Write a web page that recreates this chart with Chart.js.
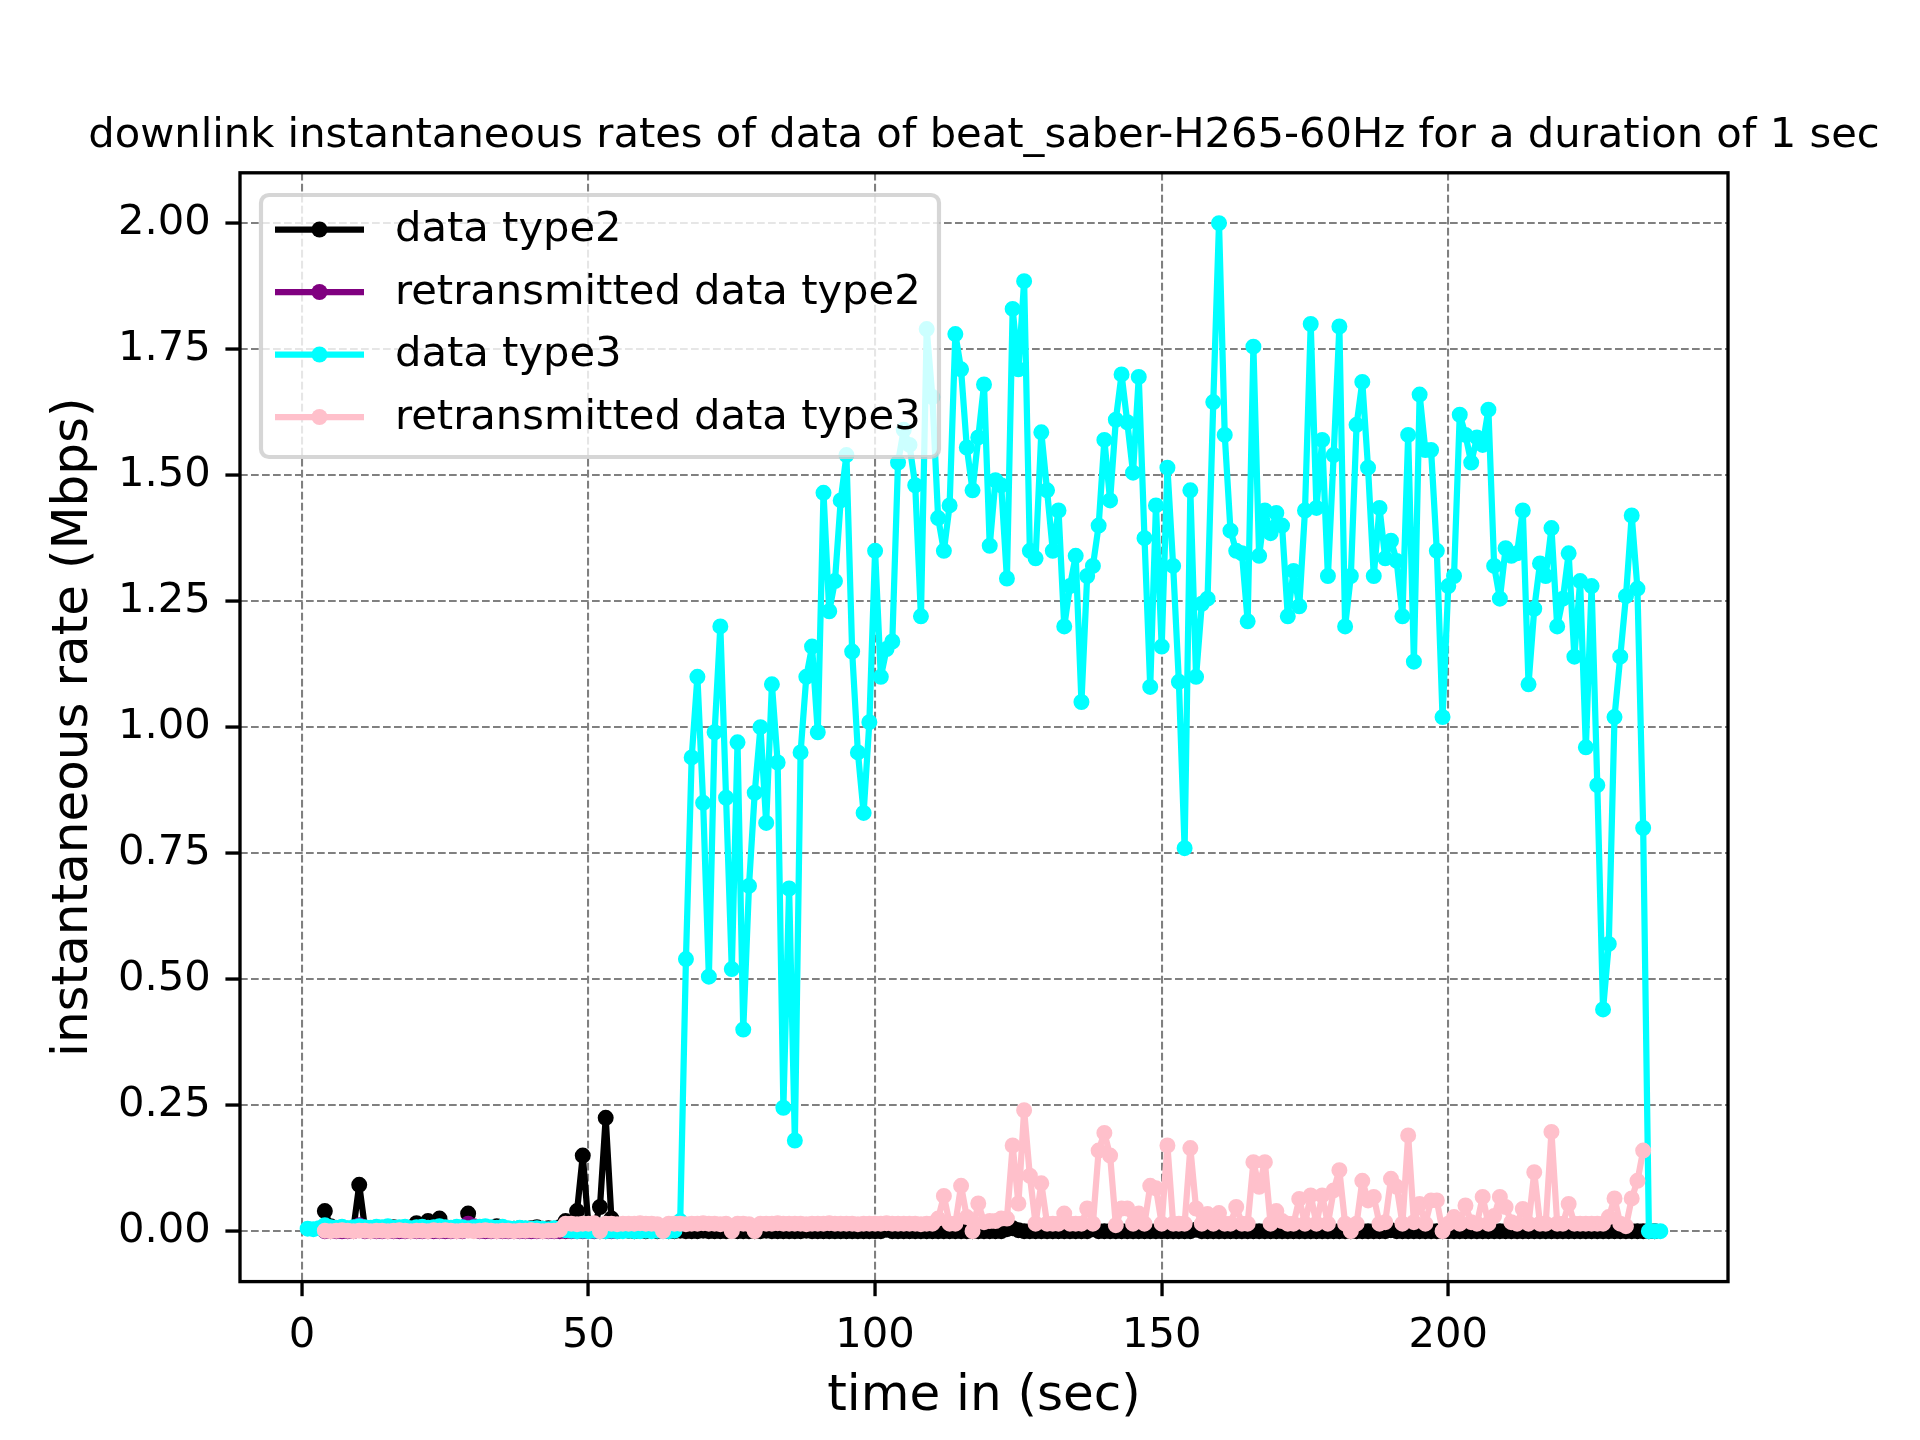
<!DOCTYPE html>
<html>
<head>
<meta charset="utf-8">
<title>downlink instantaneous rates</title>
<script src="https://cdn.jsdelivr.net/npm/chart.js@4.4.1/dist/chart.umd.min.js"></script>
<style>
  html, body { margin: 0; padding: 0; background: #fff; }
  canvas { display: block; }
</style>
</head>
<body>
<canvas id="rateChart" width="1920" height="1440"></canvas>
<script>
// --- datos (Mbps, una muestra por segundo) ---
const chartTitle = 'downlink instantaneous rates of data of beat_saber-H265-60Hz for a duration of 1 sec';
const xTitle = 'time in (sec)';
const yTitle = 'instantaneous rate (Mbps)';

const xTicks = [0, 50, 100, 150, 200];
const xTickLabels = ['0', '50', '100', '150', '200'];
const yTicks = [0, 0.25, 0.5, 0.75, 1.0, 1.25, 1.5, 1.75, 2.0];
const yTickLabels = ['0.00', '0.25', '0.50', '0.75', '1.00', '1.25', '1.50', '1.75', '2.00'];

const seriesLabels = ['data type2', 'retransmitted data type2', 'data type3', 'retransmitted data type3'];

// data type2: segundos 4..236
const type2Start = 4;
const type2Rate = [
    0.040, 0.010, 0.006, 0.004, 0.005, 0.006, 0.092, 0.006, 0.005, 0.004,
    0.006, 0.005, 0.008, 0.006, 0.005, 0.007, 0.016, 0.010, 0.020, 0.012,
    0.025, 0.008, 0.006, 0.005, 0.007, 0.035, 0.008, 0.006, 0.005, 0.006,
    0.010, 0.005, 0.004, 0.005, 0.006, 0.005, 0.006, 0.008, 0.005, 0.006,
    0.005, 0.008, 0.020, 0.012, 0.040, 0.150, 0.010, 0.008, 0.048, 0.225,
    0.025, 0.003, 0.002, 0.001, 0.000, 0.001, 0.000, 0.002, 0.000, 0.001,
    0.000, 0.000, 0.001, 0.000, 0.000, 0.000, 0.001, 0.000, 0.000, 0.000,
    0.000, 0.001, 0.000, 0.000, 0.000, 0.000, 0.000, 0.001, 0.000, 0.000,
    0.000, 0.000, 0.000, 0.000, 0.001, 0.000, 0.000, 0.000, 0.000, 0.000,
    0.000, 0.000, 0.000, 0.000, 0.000, 0.000, 0.000, 0.000, 0.003, 0.000,
    0.000, 0.000, 0.000, 0.000, 0.000, 0.000, 0.000, 0.000, 0.000, 0.000,
    0.000, 0.000, 0.000, 0.000, 0.000, 0.000, 0.000, 0.000, 0.000, 0.004,
    0.006, 0.002, 0.000, 0.000, 0.000, 0.000, 0.000, 0.000, 0.000, 0.000,
    0.000, 0.000, 0.000, 0.000, 0.004, 0.000, 0.000, 0.000, 0.000, 0.000,
    0.000, 0.000, 0.000, 0.000, 0.000, 0.000, 0.000, 0.000, 0.000, 0.000,
    0.000, 0.000, 0.003, 0.000, 0.000, 0.000, 0.000, 0.000, 0.000, 0.000,
    0.000, 0.000, 0.000, 0.000, 0.000, 0.000, 0.000, 0.000, 0.000, 0.000,
    0.000, 0.000, 0.000, 0.000, 0.000, 0.000, 0.000, 0.000, 0.000, 0.000,
    0.000, 0.000, 0.000, 0.000, 0.000, 0.000, 0.002, 0.000, 0.000, 0.000,
    0.000, 0.000, 0.000, 0.000, 0.000, 0.000, 0.000, 0.000, 0.000, 0.000,
    0.000, 0.000, 0.000, 0.000, 0.000, 0.000, 0.000, 0.000, 0.000, 0.000,
    0.000, 0.000, 0.000, 0.000, 0.000, 0.000, 0.000, 0.000, 0.000, 0.000,
    0.000, 0.000, 0.000, 0.000, 0.000, 0.000, 0.000, 0.000, 0.000, 0.000,
    0.000, 0.000, 0.000
];

// retransmitted data type2: segundos 4..55
const retx2Start = 4;
const retx2Rate = [
    0.000, 0.000, 0.000, 0.000, 0.000, 0.000, 0.012, 0.000, 0.000, 0.000,
    0.000, 0.000, 0.000, 0.000, 0.000, 0.000, 0.000, 0.000, 0.000, 0.000,
    0.000, 0.000, 0.000, 0.000, 0.000, 0.015, 0.010, 0.000, 0.000, 0.000,
    0.000, 0.000, 0.000, 0.000, 0.000, 0.000, 0.000, 0.000, 0.000, 0.000,
    0.000, 0.000, 0.000, 0.000, 0.000, 0.000, 0.000, 0.000, 0.000, 0.000,
    0.000, 0.000
];

// data type3: segundos 1..237
const type3Start = 1;
const type3Rate = [
    0.005, 0.004, 0.006, 0.012, 0.008, 0.007, 0.009, 0.006, 0.008, 0.010,
    0.008, 0.007, 0.009, 0.008, 0.010, 0.007, 0.008, 0.009, 0.006, 0.008,
    0.009, 0.007, 0.008, 0.010, 0.008, 0.007, 0.009, 0.008, 0.006, 0.008,
    0.009, 0.010, 0.008, 0.007, 0.009, 0.006, 0.005, 0.007, 0.006, 0.005,
    0.006, 0.005, 0.004, 0.006, 0.005, 0.002, 0.001, 0.000, 0.001, 0.000,
    0.001, 0.000, 0.000, 0.001, 0.000, 0.000, 0.001, 0.000, 0.000, 0.001,
    0.000, 0.001, 0.000, 0.000, 0.001, 0.020, 0.540, 0.940, 1.100, 0.850,
    0.505, 0.990, 1.200, 0.860, 0.520, 0.970, 0.400, 0.685, 0.870, 1.000,
    0.810, 1.085, 0.930, 0.245, 0.680, 0.180, 0.950, 1.100, 1.160, 0.990,
    1.465, 1.230, 1.290, 1.450, 1.540, 1.150, 0.950, 0.830, 1.010, 1.350,
    1.100, 1.155, 1.170, 1.525, 1.590, 1.560, 1.480, 1.220, 1.790, 1.655,
    1.415, 1.350, 1.440, 1.780, 1.710, 1.555, 1.470, 1.575, 1.680, 1.360,
    1.490, 1.480, 1.295, 1.830, 1.710, 1.885, 1.350, 1.335, 1.585, 1.470,
    1.350, 1.430, 1.200, 1.280, 1.340, 1.050, 1.300, 1.320, 1.400, 1.570,
    1.450, 1.610, 1.700, 1.605, 1.505, 1.695, 1.375, 1.080, 1.440, 1.160,
    1.515, 1.320, 1.090, 0.760, 1.470, 1.100, 1.245, 1.255, 1.645, 2.000,
    1.580, 1.390, 1.350, 1.345, 1.210, 1.755, 1.340, 1.430, 1.385, 1.425,
    1.400, 1.220, 1.310, 1.240, 1.430, 1.800, 1.435, 1.570, 1.300, 1.540,
    1.795, 1.200, 1.300, 1.600, 1.685, 1.515, 1.300, 1.435, 1.335, 1.370,
    1.330, 1.220, 1.580, 1.130, 1.660, 1.550, 1.550, 1.350, 1.020, 1.280,
    1.300, 1.620, 1.580, 1.525, 1.575, 1.560, 1.630, 1.320, 1.255, 1.355,
    1.340, 1.345, 1.430, 1.085, 1.235, 1.325, 1.300, 1.395, 1.200, 1.255,
    1.345, 1.140, 1.290, 0.960, 1.280, 0.885, 0.440, 0.570, 1.020, 1.140,
    1.260, 1.420, 1.275, 0.800, 0.000, 0.000, 0.000
];

// retransmitted data type3: segundos 4..234
const retx3Start = 4;
const retx3Rate = [
    0.001, 0.000, 0.001, 0.002, 0.001, 0.000, 0.001, 0.001, 0.000, 0.001,
    0.001, 0.000, 0.001, 0.002, 0.001, 0.000, 0.001, 0.001, 0.000, 0.002,
    0.001, 0.002, 0.001, 0.000, 0.001, 0.001, 0.000, 0.001, 0.002, 0.001,
    0.000, 0.001, 0.001, 0.000, 0.001, 0.001, 0.002, 0.001, 0.000, 0.001,
    0.001, 0.003,
    0.015, 0.015, 0.014, 0.015, 0.015, 0.016, 0.000, 0.015, 0.015, 0.014,
    0.015, 0.015, 0.015, 0.016, 0.015, 0.015, 0.014, 0.000, 0.015, 0.015,
    0.015, 0.014, 0.015, 0.015, 0.016, 0.015, 0.015, 0.014, 0.015, 0.000,
    0.015, 0.015, 0.014, 0.000, 0.015, 0.015, 0.015, 0.016, 0.015, 0.015,
    0.015, 0.015, 0.014, 0.015, 0.015, 0.015, 0.016, 0.015, 0.015, 0.015,
    0.015, 0.014, 0.015, 0.015, 0.015, 0.015, 0.016, 0.015, 0.015, 0.015,
    0.015, 0.015, 0.014, 0.015, 0.015, 0.025, 0.070, 0.015, 0.015, 0.090,
    0.028, 0.000, 0.055, 0.018, 0.020, 0.020, 0.025, 0.025, 0.170, 0.055,
    0.240, 0.110, 0.015, 0.095, 0.015, 0.015, 0.015, 0.035, 0.015, 0.015,
    0.015, 0.045, 0.015, 0.160, 0.195, 0.150, 0.012, 0.045, 0.045, 0.015,
    0.035, 0.015, 0.090, 0.085, 0.015, 0.170, 0.015, 0.015, 0.015, 0.165,
    0.045, 0.015, 0.034, 0.015, 0.036, 0.015, 0.015, 0.048, 0.015, 0.015,
    0.137, 0.088, 0.137, 0.015, 0.040, 0.020, 0.015, 0.015, 0.064, 0.015,
    0.071, 0.015, 0.071, 0.015, 0.081, 0.121, 0.015, 0.000, 0.015, 0.100,
    0.061, 0.068, 0.015, 0.018, 0.104, 0.088, 0.015, 0.190, 0.018, 0.054,
    0.015, 0.061, 0.061, 0.000, 0.015, 0.028, 0.015, 0.051, 0.018, 0.015,
    0.068, 0.015, 0.030, 0.068, 0.048, 0.018, 0.015, 0.044, 0.015, 0.117,
    0.015, 0.015, 0.197, 0.015, 0.015, 0.054, 0.015, 0.015, 0.015, 0.015,
    0.015, 0.015, 0.028, 0.065, 0.015, 0.010, 0.065, 0.100, 0.160
];

const seriesColors = ['#000000', '#800080', '#00ffff', '#ffc0cb'];

// --- gráfico ---
const FONT = 'DejaVu Sans';
const PT = 300 / 72; // la figura original está a 300 ppp
Chart.defaults.font.family = FONT;
Chart.defaults.color = '#000';

const toPoints = (start, rates) => rates.map((v, i) => ({ x: start + i, y: v }));

function makeSeries(idx, start, rates, order) {
    const color = seriesColors[idx];
    return {
        label: seriesLabels[idx],
        data: toPoints(start, rates),
        borderColor: color,
        backgroundColor: color,
        pointBackgroundColor: color,
        pointBorderColor: color,
        borderWidth: 1.5 * PT,
        pointRadius: 6.3,
        pointBorderWidth: 3.4,
        pointHoverRadius: 6.3,
        tension: 0,
        borderJoinStyle: 'round',
        order: order // el último de la lista queda arriba, como en el original
    };
}

// marco completo, leyenda y título
const frameLegendTitle = {
    id: 'frameLegendTitle',
    afterDatasetsDraw(chart) {
        const { ctx, chartArea: a } = chart;
        ctx.save();
        ctx.strokeStyle = '#000';
        ctx.lineWidth = 0.8 * PT;
        ctx.strokeRect(a.left, a.top, a.right - a.left, a.bottom - a.top);

        // leyenda (arriba a la izquierda)
        const bx = 261, by = 195, bw = 678, bh = 262, r = 8;
        ctx.beginPath();
        ctx.moveTo(bx + r, by);
        ctx.arcTo(bx + bw, by, bx + bw, by + bh, r);
        ctx.arcTo(bx + bw, by + bh, bx, by + bh, r);
        ctx.arcTo(bx, by + bh, bx, by, r);
        ctx.arcTo(bx, by, bx + bw, by, r);
        ctx.closePath();
        ctx.fillStyle = 'rgba(255,255,255,0.8)';
        ctx.fill();
        ctx.strokeStyle = 'rgba(204,204,204,0.8)';
        ctx.lineWidth = 1.0 * PT;
        ctx.stroke();

        const rows = [229.5, 292, 354.5, 417];
        ctx.font = (10 * PT) + 'px "' + FONT + '"';
        ctx.textBaseline = 'middle';
        ctx.textAlign = 'left';
        chart.data.datasets.forEach((ds, i) => {
            const y = rows[i];
            ctx.strokeStyle = ds.borderColor;
            ctx.lineWidth = 1.5 * PT;
            ctx.beginPath();
            ctx.moveTo(275, y);
            ctx.lineTo(364, y);
            ctx.stroke();
            ctx.fillStyle = ds.borderColor;
            ctx.beginPath();
            ctx.arc(319.5, y, 8, 0, Math.PI * 2);
            ctx.fill();
            ctx.fillStyle = '#000';
            ctx.fillText(ds.label, 395, y + 1);
        });
        ctx.restore();
    },
    afterDraw(chart) {
        const { ctx, chartArea: a } = chart;
        ctx.save();
        ctx.font = (10 * PT) + 'px "' + FONT + '"';
        ctx.fillStyle = '#000';
        ctx.textAlign = 'center';
        ctx.textBaseline = 'alphabetic';
        ctx.fillText(chartTitle, (a.left + a.right) / 2, 147);
        ctx.restore();
    }
};

const gridOpts = {
    color: '#808080',
    lineWidth: 0.5 * PT,
    tickColor: '#000',
    tickWidth: 0.8 * PT,
    tickLength: 3.5 * PT,
    tickBorderDash: []
};

const rateChart = new Chart(document.getElementById('rateChart').getContext('2d'), {
    type: 'line',
    data: {
        datasets: [
            makeSeries(0, type2Start, type2Rate, 4),
            makeSeries(1, retx2Start, retx2Rate, 3),
            makeSeries(2, type3Start, type3Rate, 2),
            makeSeries(3, retx3Start, retx3Rate, 1)
        ]
    },
    options: {
        responsive: false,
        devicePixelRatio: 1,
        animation: false,
        events: [],
        layout: { padding: { top: 172.8, right: 192, bottom: 0, left: 0 } },
        plugins: {
            legend: { display: false },
            title: { display: false },
            tooltip: { enabled: false }
        },
        scales: {
            x: {
                type: 'linear',
                min: -10.8,
                max: 248.8,
                afterBuildTicks: s => { s.ticks = xTicks.map(v => ({ value: v })); },
                afterFit: s => { s.height = 158.4; },
                ticks: {
                    font: { size: 10 * PT },
                    color: '#000',
                    padding: 3.5 * PT,
                    maxRotation: 0,
                    callback: (v, i) => xTickLabels[i]
                },
                grid: gridOpts,
                border: { display: false, dash: [7.7, 3.3] },
                title: {
                    display: true,
                    text: xTitle,
                    font: { size: 12 * PT },
                    color: '#000',
                    padding: { top: 0, bottom: 13 }
                }
            },
            y: {
                type: 'linear',
                min: -0.1,
                max: 2.1,
                afterBuildTicks: s => { s.ticks = yTicks.map(v => ({ value: v })); },
                afterFit: s => { s.width = 240; },
                ticks: {
                    font: { size: 10 * PT },
                    color: '#000',
                    padding: 3.5 * PT,
                    callback: (v, i) => yTickLabels[i]
                },
                grid: gridOpts,
                border: { display: false, dash: [7.7, 3.3] },
                title: {
                    display: true,
                    text: yTitle,
                    font: { size: 12 * PT },
                    color: '#000',
                    padding: { top: 44, bottom: 0 }
                }
            }
        }
    },
    plugins: [frameLegendTitle]
});
</script>
</body>
</html>
